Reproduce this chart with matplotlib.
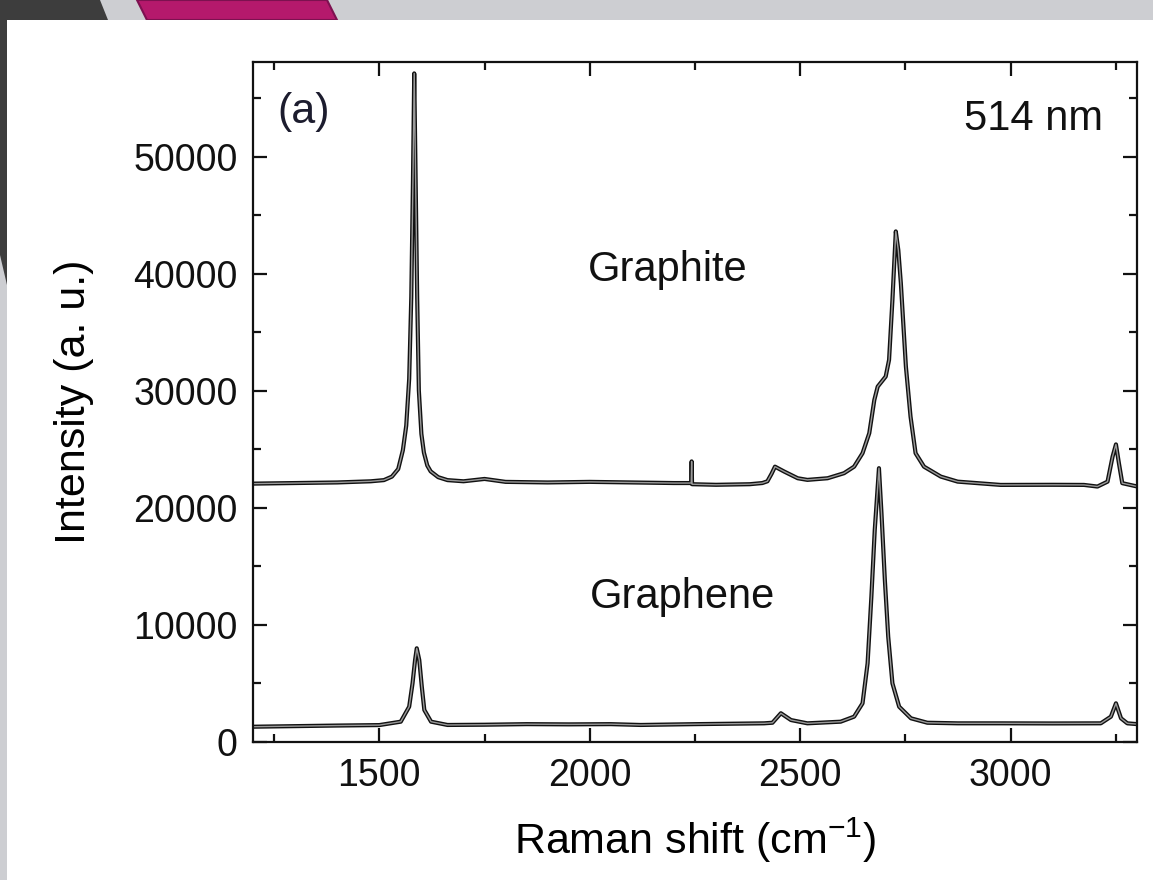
import matplotlib.pyplot as plt
import matplotlib.patheffects as pe
from matplotlib.patches import Polygon, Rectangle
from matplotlib.ticker import MultipleLocator

plt.rcParams['font.family'] = ['Liberation Sans', 'DejaVu Sans']

# spectra (Raman shift in cm-1, intensity in a.u.)
graphite_x = [1200, 1300, 1400, 1480, 1511, 1530, 1545, 1556, 1564, 1571, 1576, 1580, 1583,
              1586, 1590, 1594, 1600, 1606, 1614, 1622, 1640, 1662, 1700, 1750, 1800,
              1900, 2000, 2100, 2200, 2241, 2242, 2243, 2300, 2380, 2410, 2422, 2432,
              2440, 2462, 2494, 2517, 2565, 2604, 2628, 2648, 2664, 2676, 2684, 2703,
              2711, 2719, 2727, 2733, 2739, 2751, 2762, 2774, 2794, 2834, 2874, 2976,
              3100, 3174, 3206, 3230, 3242, 3250, 3257, 3265, 3301]
graphite_y = [22050, 22100, 22150, 22250, 22350, 22650, 23300, 24900, 27000, 31000, 38000, 48000, 57100,
              49000, 38000, 30000, 26300, 24700, 23600, 23100, 22600, 22350, 22250, 22450, 22200,
              22150, 22200, 22150, 22100, 22100, 23950, 22000, 21950, 22000, 22100, 22250, 22900,
              23500, 23080, 22510, 22370, 22510, 22940, 23500, 24650, 26360, 29200, 30340, 31200,
              32620, 37750, 43600, 42000, 39180, 32050, 27780, 24650, 23500, 22650, 22220, 21940,
              21950, 21940, 21800, 22220, 24360, 25400, 23800, 22090, 21800]

graphene_x = [1200, 1300, 1400, 1500, 1551, 1571, 1579, 1585, 1589, 1595, 1601, 1607, 1623,
              1662, 1750, 1850, 1950, 2050, 2121, 2250, 2414, 2434, 2454, 2478, 2517,
              2596, 2628, 2648, 2660, 2669, 2677, 2687, 2693, 2701, 2709, 2719, 2735,
              2763, 2802, 2874, 2976, 3100, 3214, 3238, 3250, 3262, 3277, 3301]
graphene_y = [1280, 1330, 1380, 1420, 1710, 2990, 4990, 6980, 7980, 6980, 4700, 2710, 1710,
              1430, 1450, 1500, 1480, 1500, 1430, 1500, 1570, 1620, 2430, 1850, 1570,
              1710, 2140, 3280, 6700, 12390, 18090, 23370, 19520, 13820, 8970, 4990, 2990,
              2000, 1620, 1570, 1570, 1560, 1570, 2140, 3280, 2000, 1570, 1500]

W, H = 1153, 880


def px(x, y):
    return (x / W, 1 - y / H)


fig = plt.figure(figsize=(W / 100, H / 100), dpi=100, facecolor='#cdced2')

# slide decoration behind the chart
fig.patches.append(Polygon([px(0, 0), px(100, 0), px(108, 20), px(7, 20), px(7, 285), px(0, 255)],
                           closed=True, transform=fig.transFigure, facecolor='#3d3d3d', zorder=-3))
fig.patches.append(Polygon([px(137, 0), px(327, 0), px(337, 20), px(147, 20)],
                           closed=True, transform=fig.transFigure, facecolor='#b5196c',
                           edgecolor='#7d1150', linewidth=1.5, zorder=-3))
fig.patches.append(Rectangle(px(7, 880), (W - 7) / W, 860 / H, transform=fig.transFigure,
                             facecolor='white', zorder=-2))

ax = fig.add_axes([253 / W, 1 - 741.7 / H, (1137 - 253) / W, (741.7 - 61.7) / H])
ax.set_facecolor('white')

line_fx = [pe.Stroke(linewidth=3.0, foreground='#111111'), pe.Normal()]
ax.plot(graphite_x, graphite_y, color='#9a9a9a', lw=1.0, path_effects=line_fx)
ax.plot(graphene_x, graphene_y, color='#9a9a9a', lw=1.0, path_effects=line_fx)

ax.set_xlim(1200, 3300)
ax.set_ylim(0, 58100)
ax.xaxis.set_major_locator(MultipleLocator(500))
ax.xaxis.set_minor_locator(MultipleLocator(250))
ax.yaxis.set_major_locator(MultipleLocator(10000))
ax.yaxis.set_minor_locator(MultipleLocator(5000))
ax.tick_params(which='both', direction='in', top=True, right=True, width=1.6, colors='#111111')
ax.tick_params(which='major', length=10, labelsize=27)
ax.tick_params(which='minor', length=6)
ax.tick_params(axis='y', pad=11)
ax.tick_params(axis='x', pad=12)
for s in ax.spines.values():
    s.set_linewidth(1.6)
    s.set_color('#111111')

ax.set_xlabel('Raman shift (cm$^{\\mathregular{-1}}$)', fontsize=31, labelpad=15)
ax.set_ylabel('Intensity (a. u.)', fontsize=31, labelpad=28)

ax.text(0.028, 0.955, '(a)', transform=ax.transAxes, fontsize=31, color='#1c1c2e', va='top', ha='left')
ax.text(0.962, 0.945, '514 nm', transform=ax.transAxes, fontsize=30, color='#111111', va='top', ha='right')
ax.text(1995, 40300, 'Graphite', fontsize=30, color='#111111', va='center', ha='left')
ax.text(2000, 12370, 'Graphene', fontsize=30, color='#111111', va='center', ha='left')

fig.savefig('out.png', dpi=100, facecolor=fig.get_facecolor())
